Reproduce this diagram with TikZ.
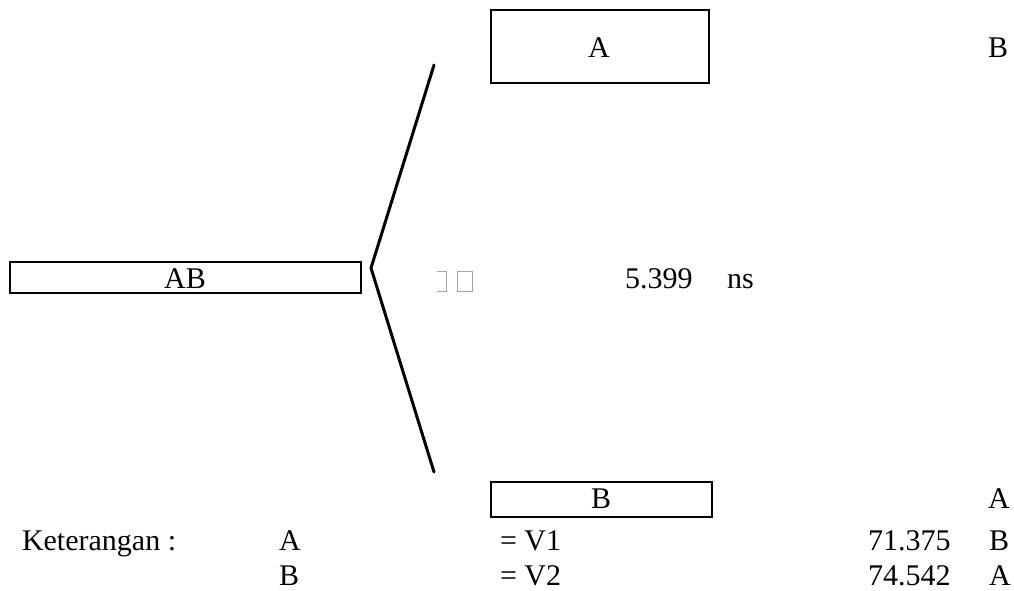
\documentclass[tikz,border=0pt]{standalone}
\usepackage{fontspec}
\setmainfont{Liberation Serif}
\begin{document}
\begin{tikzpicture}[x=1pt,y=-1pt,
  every node/.style={inner sep=0pt,outer sep=0pt,font=\fontsize{30}{34}\selectfont},
  boxframe/.style={draw=black,line width=2.2pt},
  lbl/.style={anchor=base west,text depth=0pt},
  lblc/.style={anchor=base,text depth=0pt},
  glyphbox/.style={draw=gray!70,line width=1pt}]
\useasboundingbox[fill=white] (0,0) rectangle (1014,590);
% boxes
\node[boxframe,minimum width=218pt,minimum height=73pt] (boxA) at (600,46.5) {};
\node[lblc] (tA) at (599,57) {A};
\node[lblc] (tBtop) at (998,57) {B};
\node[boxframe,minimum width=351pt,minimum height=31pt] (boxAB) at (185.5,277.5) {};
\node[lblc] (tAB) at (185,288) {AB};
\node[boxframe,minimum width=221pt,minimum height=35pt] (boxB) at (601.5,499.5) {};
\node[lblc] (tB) at (601,508) {B};
\node[lblc] (tArt) at (999,508) {A};
% bracket
\coordinate (brT) at (434,65);
\coordinate (brM) at (371,268);
\coordinate (brB) at (434,472);
\draw[line width=3pt,line join=round,line cap=round] (brT) -- (brM) -- (brB);
% missing glyph boxes
\draw[glyphbox] (437,271) -- (446,271) -- (446,291) -- (437,291);
\draw[glyphbox] (457,271) rectangle (472,291);
% middle text
\node[lbl] (tnum) at (625,288) {5.399};
\node[lbl] (tns) at (727,288) {ns};
% legend
\node[lbl] (ket) at (22,550) {Keterangan :};
\node[lbl] (l1a) at (279,550) {A};
\node[lbl] (l1b) at (500,550) {= V1};
\node[lbl] (l1c) at (868,550) {71.375};
\node[lbl] (l1d) at (989,550) {B};
\node[lbl] (l2a) at (279,585) {B};
\node[lbl] (l2b) at (500,585) {= V2};
\node[lbl] (l2c) at (868,585) {74.542};
\node[lbl] (l2d) at (989,585) {A};
\end{tikzpicture}
\end{document}
